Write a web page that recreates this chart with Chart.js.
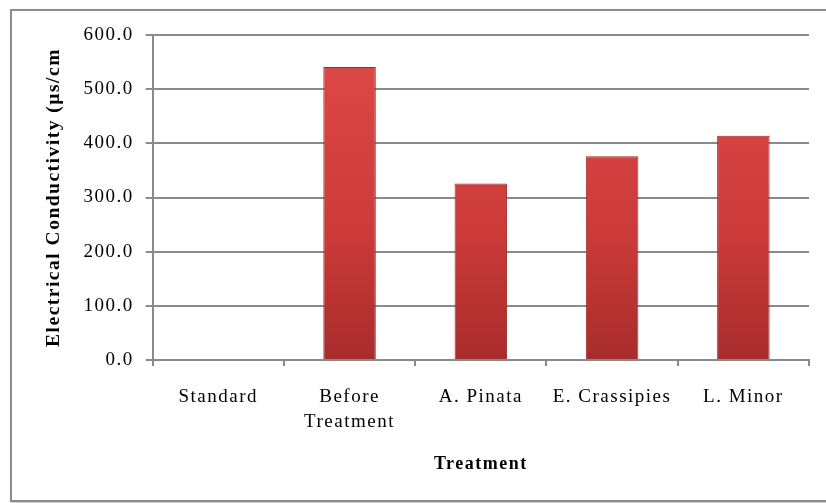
<!DOCTYPE html>
<html>
<head>
<meta charset="utf-8">
<script src="https://cdn.jsdelivr.net/npm/chart.js@4"></script>
<style>
  html, body { margin: 0; padding: 0; background: #fff; }
  #wrap { position: relative; width: 826px; height: 503px; overflow: hidden; }
  #frame {
    position: absolute; left: 10px; top: 9px; width: 840px; height: 489px;
    border: 2px solid #8c8c8c; box-shadow: 1px 1px 2px #bbb;
  }
  #chart { position: absolute; left: 0; top: 0; }
</style>
</head>
<body>
<div id="wrap">
  <div id="frame"></div>
  <canvas id="chart" width="826" height="503"></canvas>
</div>
<script>
// Chart data
const categories = ['Standard', ['Before', 'Treatment'], 'A. Pinata', 'E. Crassipies', 'L. Minor'];
const conductivity = [0, 541, 326, 376, 414];
const yTicks = [0, 100, 200, 300, 400, 500, 600];

const gridGray = '#8a8a8a';
const serif = '"Liberation Serif", "Times New Roman", serif';

// Excel-like text is wide, so add letter spacing to every text draw
const spacingPlugin = {
    id: 'letterSpacing',
    beforeUpdate(chart) { chart.ctx.letterSpacing = '1.5px'; },
    beforeDraw(chart) { chart.ctx.letterSpacing = '1.5px'; }
};

// Vertical gradient for the bars
function barFill(context) {
    const chart = context.chart;
    const area = chart.chartArea;
    if (!area) return '#d33f3f';
    const g = chart.ctx.createLinearGradient(0, area.top, 0, area.bottom);
    g.addColorStop(0, '#de4a47');
    g.addColorStop(0.6, '#cc3b3a');
    g.addColorStop(1, '#a82c2c');
    return g;
}

const ctx = document.getElementById('chart');
new Chart(ctx, {
    type: 'bar',
    data: {
        labels: categories,
        datasets: [{
            label: 'Electrical Conductivity',
            data: conductivity,
            backgroundColor: barFill,
            borderColor: '#9e2a2a',
            borderWidth: 1,
            barPercentage: 0.4,
            categoryPercentage: 1
        }]
    },
    options: {
        responsive: false,
        animation: false,
        layout: {
            padding: { left: 42, right: 17, top: 35, bottom: 28 }
        },
        plugins: {
            legend: { display: false },
            tooltip: { enabled: false }
        },
        scales: {
            x: {
                grid: {
                    display: true,
                    drawOnChartArea: false,
                    tickLength: 6,
                    color: gridGray,
                    lineWidth: 2
                },
                border: { color: gridGray, width: 2 },
                ticks: {
                    color: '#000',
                    padding: 19,
                    maxRotation: 0,
                    font: { family: serif, size: 19, lineHeight: 1.3 }
                },
                title: {
                    display: true,
                    text: 'Treatment',
                    color: '#000',
                    padding: { top: 0, bottom: 0 },
                    font: { family: serif, size: 18, weight: 'bold' }
                }
            },
            y: {
                min: 0,
                max: 600,
                afterBuildTicks(scale) {
                    scale.ticks = yTicks.map(v => ({ value: v }));
                },
                grid: {
                    color: gridGray,
                    lineWidth: 2,
                    tickLength: 7
                },
                border: { color: gridGray, width: 2 },
                ticks: {
                    color: '#000',
                    padding: 12,
                    font: { family: serif, size: 19 },
                    callback: v => Number(v).toFixed(1)
                },
                title: {
                    display: true,
                    text: 'Electrical Conductivity (µs/cm',
                    color: '#000',
                    padding: { top: 0, bottom: 6 },
                    font: { family: serif, size: 19.5, weight: 'bold' }
                }
            }
        }
    },
    plugins: [spacingPlugin]
});
</script>
</body>
</html>
